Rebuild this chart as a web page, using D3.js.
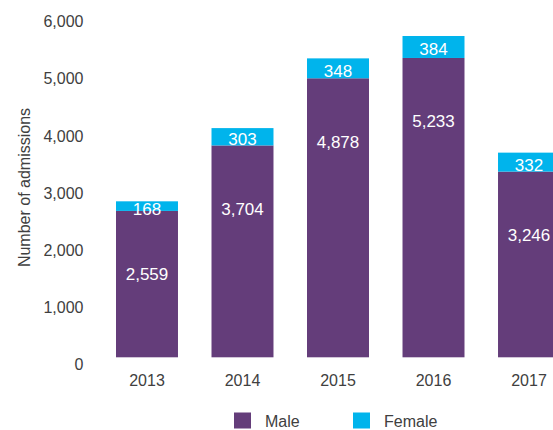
<!DOCTYPE html>
<html>
<head>
<meta charset="utf-8">
<script src="https://cdn.jsdelivr.net/npm/d3@7"></script>
<style>
  html, body { margin: 0; padding: 0; background: #ffffff; }
  svg { display: block; font-family: "Liberation Sans", Arial, sans-serif; }
</style>
</head>
<body>
<svg id="chart" width="553" height="430"></svg>
<script>
const years = ["2013", "2014", "2015", "2016", "2017"];
const male = [2559, 3704, 4878, 5233, 3246];
const female = [168, 303, 348, 384, 332];
const yTicks = [0, 1000, 2000, 3000, 4000, 5000, 6000];
const seriesNames = ["Male", "Female"];
const seriesColors = ["#643d7a", "#00b4ec"];
const yTitle = "Number of admissions";

const svg = d3.select("#chart");
const fmt = d3.format(",");

const y = d3.scaleLinear().domain([0, 6000]).range([357.3, 14.1]);
const x = d3.scaleBand().domain(years).range([116, 560]).paddingInner(0.351).paddingOuter(0);

const rows = years.map((yr, i) => ({ year: yr, Male: male[i], Female: female[i] }));
const stack = d3.stack().keys(seriesNames)(rows);

// bars
stack.forEach((layer, li) => {
  svg.append("g").selectAll("rect").data(layer).join("rect")
    .attr("x", d => x(d.data.year))
    .attr("width", x.bandwidth())
    .attr("y", d => y(d[1]))
    .attr("height", d => y(d[0]) - y(d[1]))
    .attr("fill", seriesColors[li]);
});

// male labels
svg.append("g").selectAll("text").data(stack[0]).join("text")
  .attr("x", d => x(d.data.year) + x.bandwidth() / 2)
  .attr("y", d => y(d[1]) + 64)
  .attr("text-anchor", "middle")
  .attr("dominant-baseline", "central")
  .attr("fill", "#ffffff")
  .attr("font-size", 17)
  .text(d => fmt(d.data.Male));

// female labels
svg.append("g").selectAll("text").data(stack[1]).join("text")
  .attr("x", d => x(d.data.year) + x.bandwidth() / 2)
  .attr("y", d => (y(d[0]) + y(d[1])) / 2 + 3)
  .attr("text-anchor", "middle")
  .attr("dominant-baseline", "central")
  .attr("fill", "#ffffff")
  .attr("font-size", 17)
  .text(d => fmt(d.data.Female));

// y axis labels
const yAxis = d3.axisLeft(y).tickValues(yTicks).tickFormat(fmt).tickSize(0).tickPadding(0);
const gy = svg.append("g").attr("transform", "translate(83.5,0)").call(yAxis);
gy.select(".domain").remove();
gy.selectAll("text")
  .attr("font-size", 16)
  .attr("font-family", "Liberation Sans, Arial, sans-serif")
  .attr("fill", "#404040")
  .attr("dy", null)
  .attr("y", 7)
  .attr("dominant-baseline", "central");

// x axis labels
const xAxis = d3.axisBottom(x).tickSize(0).tickPadding(0);
const gx = svg.append("g").attr("transform", "translate(0,380)").call(xAxis);
gx.select(".domain").remove();
gx.selectAll("text")
  .attr("font-size", 16)
  .attr("font-family", "Liberation Sans, Arial, sans-serif")
  .attr("fill", "#404040")
  .attr("dy", null)
  .attr("y", 0)
  .attr("dominant-baseline", "central");

// y title
svg.append("text")
  .attr("transform", "translate(30,187.5) rotate(-90)")
  .attr("text-anchor", "middle")
  .attr("font-size", 16)
  .attr("fill", "#404040")
  .text(yTitle);

// legend
const legendX = [234, 353];
const lg = svg.append("g");
seriesNames.forEach((name, i) => {
  lg.append("rect")
    .attr("x", legendX[i]).attr("y", 412.5)
    .attr("width", 17).attr("height", 16)
    .attr("fill", seriesColors[i]);
  lg.append("text")
    .attr("x", legendX[i] + 31).attr("y", 421.5)
    .attr("dominant-baseline", "central")
    .attr("font-size", 16)
    .attr("fill", "#404040")
    .text(name);
});
</script>
</body>
</html>
